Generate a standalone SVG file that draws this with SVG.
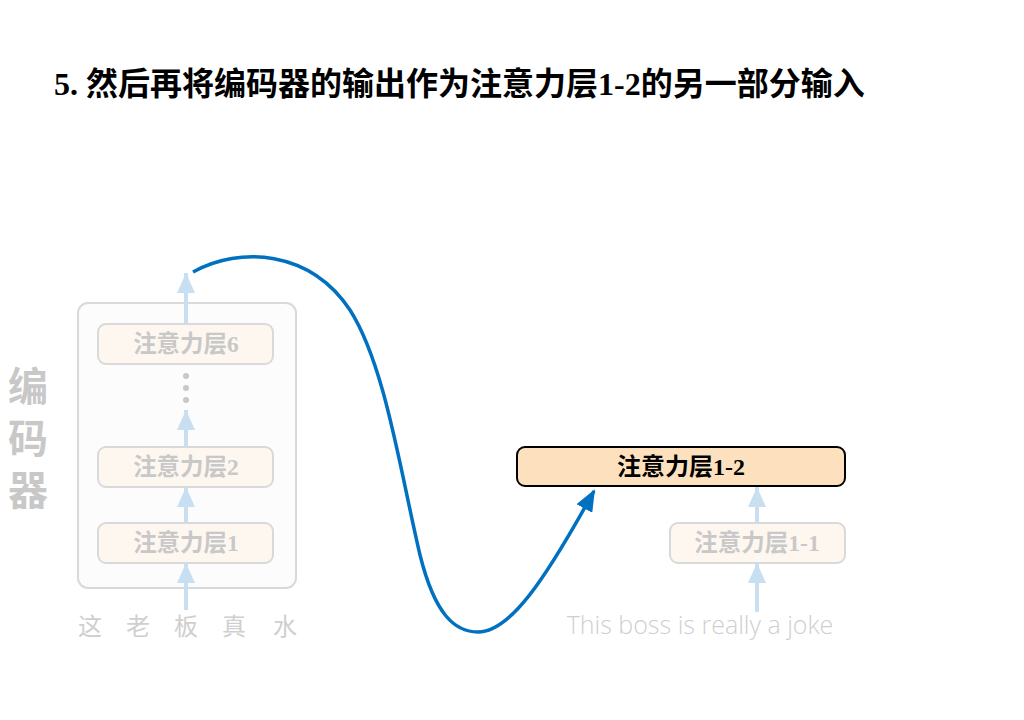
<svg xmlns="http://www.w3.org/2000/svg" width="1024" height="720" viewBox="0 0 1024 720">
<defs>
<marker id="ah-light" viewBox="0 0 20 18" refX="20" refY="9" markerWidth="20" markerHeight="18" markerUnits="userSpaceOnUse" orient="auto"><path d="M0,0 L20,9 L0,18 z" fill="#c8dff1"/></marker>
<marker id="ah-blue" viewBox="0 0 22 18" refX="20" refY="9" markerWidth="22" markerHeight="18" markerUnits="userSpaceOnUse" orient="auto"><path d="M0,0 L22,9 L0,18 z" fill="#0070c0"/></marker>
</defs>
<style>
.faded-box{fill:#fdf7f0;stroke:#d9d9d9;stroke-width:2}
.faded-text{font-family:"Liberation Serif","Noto Sans CJK SC",serif;font-weight:bold;font-size:23.5px;fill:#c8c8c8;text-anchor:middle}
.light{stroke:#c8dff1;stroke-width:4;fill:none;marker-end:url(#ah-light)}
.word{font-family:"Noto Sans CJK SC",sans-serif;font-size:24px;fill:#cfcfcf;text-anchor:middle}
</style>
<rect width="1024" height="720" fill="#ffffff"/>
<text x="54" y="95" font-family="Liberation Serif,Noto Sans CJK SC,serif" font-weight="bold" font-size="32" fill="#000">5. 然后再将编码器的输出作为注意力层1-2的另一部分输入</text>

<g id="encoder">
<rect x="78" y="303" width="218" height="285" rx="10" fill="#fcfcfc" stroke="#d9d9d9" stroke-width="2"/>
<text x="28" y="366" writing-mode="vertical-rl" letter-spacing="12" font-family="Noto Sans CJK SC,sans-serif" font-weight="bold" font-size="40" fill="#c8c8c8">编码器</text>
</g>
<g id="layer6"><rect class="faded-box" x="98" y="324" width="175" height="40" rx="8"/><text class="faded-text" x="186" y="352">注意力层6</text></g>
<g id="dots" fill="#c8c8c8"><circle cx="186" cy="376" r="3"/><circle cx="186" cy="388" r="3"/><circle cx="186" cy="400" r="3"/></g>
<g id="layer2"><rect class="faded-box" x="98" y="447" width="175" height="40" rx="8"/><text class="faded-text" x="186" y="475">注意力层2</text></g>
<g id="layer1"><rect class="faded-box" x="98" y="523" width="175" height="40" rx="8"/><text class="faded-text" x="186" y="551">注意力层1</text></g>
<g id="inputs-zh">
<text class="word" x="90" y="635">这</text>
<text class="word" x="138" y="635">老</text>
<text class="word" x="186" y="635">板</text>
<text class="word" x="234" y="635">真</text>
<text class="word" x="285" y="635">水</text>
</g>
<g id="layer1-2"><rect x="517" y="447" width="328" height="39" rx="8" fill="#fde0bd" stroke="#000" stroke-width="2"/><text x="681" y="475" font-family="Liberation Serif,Noto Sans CJK SC,serif" font-weight="bold" font-size="24" fill="#000" text-anchor="middle">注意力层1-2</text></g>
<g id="layer1-1"><rect class="faded-box" x="670" y="523" width="175" height="40" rx="8"/><text class="faded-text" x="757" y="551">注意力层1-1</text></g>
<g id="inputs-en"><text x="700" y="634" font-family="Open Sans,sans-serif" font-weight="300" font-size="25" fill="#cfcfcf" text-anchor="middle">This boss is really a joke</text></g>

<g id="connectors">
<line class="light" x1="186" y1="610" x2="186" y2="563"/>
<line class="light" x1="186" y1="523" x2="186" y2="487"/>
<line class="light" x1="186" y1="447" x2="186" y2="410"/>
<line class="light" x1="186" y1="324" x2="186" y2="273"/>
<line class="light" x1="757" y1="612" x2="757" y2="563"/>
<line class="light" x1="757" y1="523" x2="757" y2="487"/>
<path d="M193,272 C240,246 310,250 350,310 C385,365 400,470 420,555 C435,615 455,632 478,632 C510,632 545,580 594,491" fill="none" stroke="#0070c0" stroke-width="3.5" marker-end="url(#ah-blue)"/>
</g>
</svg>
